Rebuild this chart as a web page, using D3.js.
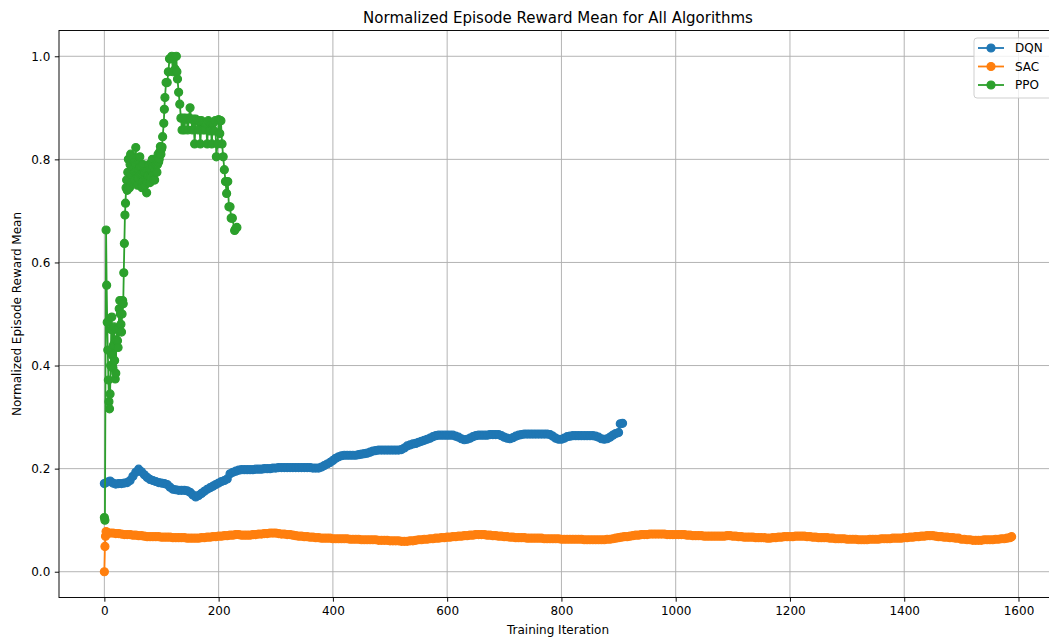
<!DOCTYPE html>
<html>
<head>
<meta charset="utf-8">
<script src="https://cdn.jsdelivr.net/npm/d3@7"></script>
<style>
  body { margin: 0; background: #fff; }
  svg { font-family: "DejaVu Sans", sans-serif; }
</style>
</head>
<body>
<div id="chart"></div>
<script>
// Series.
const seriesNames = ['DQN', 'SAC', 'PPO'];
const seriesColors = ['#1f77b4', '#ff7f0e', '#2ca02c'];

const dqnIter = d3.range(0, 901, 5).concat([903, 907]);
const dqnReward = [
  0.171, 0.174, 0.176, 0.172, 0.170, 0.171, 0.171, 0.172, 0.173, 0.177,
  0.185, 0.193, 0.199, 0.194, 0.188, 0.183, 0.179, 0.177, 0.175, 0.173,
  0.172, 0.171, 0.169, 0.164, 0.160, 0.159, 0.158, 0.158, 0.158, 0.157,
  0.154, 0.149, 0.145, 0.148, 0.152, 0.156, 0.160, 0.163, 0.166, 0.169,
  0.172, 0.175, 0.177, 0.180, 0.190, 0.193, 0.195, 0.197, 0.198, 0.198,
  0.198, 0.198, 0.198, 0.199, 0.199, 0.199, 0.200, 0.200, 0.200, 0.201,
  0.201, 0.202, 0.202, 0.202, 0.202, 0.202, 0.202, 0.202, 0.202, 0.202,
  0.202, 0.202, 0.202, 0.201, 0.201, 0.201, 0.203, 0.206, 0.209, 0.212,
  0.216, 0.220, 0.223, 0.225, 0.226, 0.226, 0.226, 0.226, 0.226, 0.227,
  0.228, 0.229, 0.230, 0.232, 0.234, 0.235, 0.236, 0.236, 0.236, 0.236,
  0.236, 0.236, 0.236, 0.236, 0.237, 0.240, 0.244, 0.246, 0.248, 0.249,
  0.251, 0.253, 0.255, 0.257, 0.259, 0.262, 0.264, 0.265, 0.265, 0.265,
  0.265, 0.265, 0.265, 0.263, 0.261, 0.258, 0.256, 0.257, 0.259, 0.262,
  0.264, 0.265, 0.265, 0.265, 0.265, 0.266, 0.266, 0.266, 0.266, 0.264,
  0.261, 0.259, 0.258, 0.260, 0.263, 0.265, 0.266, 0.267, 0.267, 0.267,
  0.267, 0.267, 0.267, 0.267, 0.267, 0.267, 0.266, 0.263, 0.259, 0.257,
  0.257, 0.259, 0.262, 0.263, 0.264, 0.264, 0.264, 0.264, 0.264, 0.264,
  0.264, 0.264, 0.263, 0.261, 0.258, 0.257, 0.258, 0.261, 0.265, 0.268,
  0.270, 0.287, 0.288
];

const sacIter = [0, 1, 2, 3].concat(d3.range(5, 1586, 5), [1588]);
const sacReward = [
  0.000, 0.049, 0.069, 0.078,
  0.076, 0.075, 0.075, 0.074, 0.074, 0.073, 0.072, 0.072, 0.072, 0.071,
  0.071, 0.070, 0.070, 0.069, 0.068, 0.068, 0.068, 0.068, 0.068, 0.067,
  0.067, 0.067, 0.067, 0.066, 0.066, 0.066, 0.066, 0.066, 0.065, 0.065,
  0.065, 0.065, 0.065, 0.066, 0.066, 0.067, 0.067, 0.068, 0.068, 0.069,
  0.069, 0.070, 0.070, 0.071, 0.071, 0.072, 0.072, 0.071, 0.071, 0.071,
  0.071, 0.072, 0.072, 0.073, 0.073, 0.074, 0.074, 0.075, 0.075, 0.075,
  0.074, 0.073, 0.073, 0.072, 0.072, 0.071, 0.070, 0.069, 0.069, 0.068,
  0.068, 0.067, 0.067, 0.066, 0.066, 0.065, 0.065, 0.065, 0.065, 0.064,
  0.064, 0.064, 0.064, 0.064, 0.064, 0.063, 0.063, 0.063, 0.063, 0.062,
  0.062, 0.062, 0.062, 0.062, 0.062, 0.061, 0.061, 0.061, 0.061, 0.060,
  0.060, 0.060, 0.060, 0.059, 0.059, 0.059, 0.060, 0.060, 0.061, 0.062,
  0.062, 0.063, 0.063, 0.064, 0.064, 0.065, 0.065, 0.066, 0.066, 0.067,
  0.067, 0.068, 0.068, 0.069, 0.069, 0.070, 0.070, 0.071, 0.071, 0.072,
  0.072, 0.072, 0.072, 0.071, 0.071, 0.070, 0.070, 0.069, 0.069, 0.068,
  0.068, 0.067, 0.067, 0.066, 0.066, 0.066, 0.066, 0.065, 0.065, 0.065,
  0.065, 0.065, 0.065, 0.064, 0.064, 0.064, 0.064, 0.064, 0.064, 0.063,
  0.063, 0.063, 0.063, 0.063, 0.063, 0.063, 0.063, 0.062, 0.062, 0.062,
  0.062, 0.062, 0.062, 0.062, 0.062, 0.063, 0.063, 0.064, 0.065, 0.066,
  0.067, 0.068, 0.068, 0.069, 0.070, 0.071, 0.071, 0.072, 0.072, 0.072,
  0.073, 0.073, 0.073, 0.073, 0.073, 0.073, 0.072, 0.072, 0.072, 0.072,
  0.072, 0.072, 0.072, 0.071, 0.071, 0.070, 0.070, 0.070, 0.070, 0.069,
  0.069, 0.069, 0.069, 0.069, 0.069, 0.069, 0.069, 0.070, 0.070, 0.069,
  0.069, 0.068, 0.068, 0.067, 0.067, 0.067, 0.067, 0.066, 0.066, 0.066,
  0.066, 0.065, 0.065, 0.066, 0.066, 0.067, 0.067, 0.068, 0.068, 0.068,
  0.068, 0.069, 0.069, 0.069, 0.069, 0.068, 0.068, 0.067, 0.067, 0.066,
  0.066, 0.066, 0.066, 0.065, 0.065, 0.064, 0.064, 0.064, 0.064, 0.063,
  0.063, 0.063, 0.063, 0.062, 0.062, 0.062, 0.062, 0.063, 0.063, 0.063,
  0.063, 0.064, 0.064, 0.064, 0.064, 0.065, 0.065, 0.065, 0.065, 0.066,
  0.066, 0.067, 0.067, 0.068, 0.068, 0.069, 0.069, 0.070, 0.070, 0.070,
  0.069, 0.068, 0.068, 0.067, 0.067, 0.066, 0.066, 0.065, 0.065, 0.063,
  0.063, 0.062, 0.062, 0.061, 0.061, 0.061, 0.061, 0.062, 0.062, 0.062,
  0.062, 0.063, 0.063, 0.064, 0.064, 0.065, 0.066,
  0.068
];

const ppoIter = [
  0, 1, 3, 4, 5, 6, 7, 8, 9, 10, 11, 12, 13, 14, 15, 16, 17, 18, 19, 20,
  21, 22, 23, 24, 25, 26, 27, 28, 29, 30, 31, 32, 33, 34, 35, 36, 37, 38, 39, 40,
  41, 42, 43, 44, 45, 46, 47, 48, 49, 50, 51, 52, 53, 54, 55, 56, 57, 58, 59, 60,
  61, 62, 63, 64, 65, 66, 67, 68, 69, 70, 71, 72, 73, 74, 75, 76, 77, 78, 79, 80,
  81, 82, 83, 84, 85, 86, 87, 88, 89, 90, 91, 92, 93, 94, 95, 96, 97, 98, 99, 100,
  101, 102, 104, 105, 106, 108, 110, 112, 114, 116, 118, 120, 122, 124, 126, 127, 128, 130, 132, 134,
  136, 138, 140, 142, 144, 146, 148, 150, 152, 154, 156, 158, 160, 162, 164, 166, 168, 170, 172, 174,
  176, 178, 180, 182, 184, 186, 188, 190, 192, 194, 196, 198, 200, 202, 204, 206, 208, 210, 212, 214,
  216, 218, 220, 222, 224, 228, 230, 232
];
const ppoReward = [
  0.105, 0.100, 0.663, 0.556, 0.484, 0.430, 0.372, 0.330, 0.316, 0.345,
  0.400, 0.470, 0.494, 0.420, 0.395, 0.440, 0.475, 0.410, 0.374, 0.385,
  0.450, 0.470, 0.448, 0.435, 0.470, 0.510, 0.526, 0.500, 0.480, 0.465,
  0.500, 0.526, 0.520, 0.580, 0.637, 0.692, 0.715, 0.745, 0.760, 0.740,
  0.775, 0.800, 0.760, 0.745, 0.790, 0.810, 0.770, 0.755, 0.790, 0.800,
  0.780, 0.760, 0.795, 0.775, 0.823, 0.790, 0.770, 0.750, 0.765, 0.780,
  0.795, 0.805, 0.785, 0.770, 0.755, 0.745, 0.770, 0.790, 0.775, 0.760,
  0.750, 0.775, 0.760, 0.735, 0.755, 0.770, 0.780, 0.790, 0.770, 0.755,
  0.765, 0.780, 0.795, 0.800, 0.785, 0.770, 0.760, 0.760, 0.780, 0.790,
  0.800, 0.775, 0.790, 0.810, 0.795, 0.800, 0.815, 0.825, 0.810, 0.820,
  0.824, 0.844, 0.870, 0.897, 0.920, 0.949, 0.949, 0.970, 0.995, 0.995,
  1.000, 0.970, 0.998, 0.975, 1.000, 0.970, 0.956, 0.930, 0.907, 0.880,
  0.857, 0.880, 0.857, 0.880, 0.878, 0.857, 0.880, 0.900, 0.878, 0.857,
  0.878, 0.830, 0.878, 0.875, 0.857, 0.875, 0.830, 0.875, 0.857, 0.872,
  0.857, 0.870, 0.830, 0.875, 0.855, 0.870, 0.830, 0.870, 0.855, 0.875,
  0.805, 0.830, 0.877, 0.850, 0.875, 0.830, 0.805, 0.780, 0.757, 0.734,
  0.757, 0.708, 0.708, 0.686, 0.686, 0.662, 0.666, 0.668
];

const xTicks = [0, 200, 400, 600, 800, 1000, 1200, 1400, 1600];
const yTicks = [0.0, 0.2, 0.4, 0.6, 0.8, 1.0];

const width = 1049;
const height = 641;
const margin = {'left': 59, 'top': 30.5, 'right': 1057, 'bottom': 597.5};
const markerR = 4.0;

let svg = d3.select('#chart')
  .append('svg')
    .attr('width', width)
    .attr('height', height);

let x = d3.scaleLinear().domain([-79.4, 1667.4]).range([margin.left, margin.right]);
let y = d3.scaleLinear().domain([-0.05, 1.05]).range([margin.bottom, margin.top]);

// grid
let grid = svg.append('g').attr('class', 'grid')
  .attr('stroke', '#b0b0b0').attr('stroke-width', 0.95);
grid.selectAll('line.gx').data(xTicks).enter().append('line')
  .attr('x1', (d) => x(d)).attr('x2', (d) => x(d))
  .attr('y1', margin.top).attr('y2', margin.bottom);
grid.selectAll('line.gy').data(yTicks).enter().append('line')
  .attr('y1', (d) => y(d)).attr('y2', (d) => y(d))
  .attr('x1', margin.left).attr('x2', margin.right);

// series, drawn in plot order so PPO ends on top
const series = [
  {'name': seriesNames[0], 'color': seriesColors[0], 'pts': d3.zip(dqnIter, dqnReward)},
  {'name': seriesNames[1], 'color': seriesColors[1], 'pts': d3.zip(sacIter, sacReward)},
  {'name': seriesNames[2], 'color': seriesColors[2], 'pts': d3.zip(ppoIter, ppoReward)}
];

let line = d3.line().x((d) => x(d[0])).y((d) => y(d[1]));

series.forEach((s) => {
  let g = svg.append('g').attr('class', 'series');
  g.append('path')
    .attr('d', line(s.pts))
    .attr('fill', 'none')
    .attr('stroke', s.color)
    .attr('stroke-width', 1.8)
    .attr('stroke-linejoin', 'round');
  g.selectAll('circle').data(s.pts).enter().append('circle')
    .attr('cx', (d) => x(d[0]))
    .attr('cy', (d) => y(d[1]))
    .attr('r', markerR)
    .attr('fill', s.color)
    .attr('stroke', s.color)
    .attr('stroke-width', 1.2);
});

// axes
let xAxis = d3.axisBottom(x).tickValues(xTicks).tickFormat(d3.format('d'))
  .tickSize(4.2).tickPadding(4.5).tickSizeOuter(0);
let yAxis = d3.axisLeft(y).tickValues(yTicks).tickFormat(d3.format('.1f'))
  .tickSize(4.2).tickPadding(4.5).tickSizeOuter(0);

let gx = svg.append('g').attr('transform', 'translate(0,' + margin.bottom + ')').call(xAxis);
let gy = svg.append('g').attr('transform', 'translate(' + margin.left + ',0)').call(yAxis);
[gx, gy].forEach((g) => {
  g.selectAll('text').attr('font-size', 12).attr('fill', '#000').attr('font-family', 'DejaVu Sans');
  g.selectAll('line').attr('stroke', '#000').attr('stroke-width', 0.95);
  g.select('.domain').remove();
});

// spines
svg.append('rect')
  .attr('x', margin.left).attr('y', margin.top)
  .attr('width', margin.right - margin.left)
  .attr('height', margin.bottom - margin.top)
  .attr('fill', 'none').attr('stroke', '#000').attr('stroke-width', 0.95);

// titles
svg.append('text')
  .attr('x', (margin.left + margin.right) / 2).attr('y', 23)
  .attr('text-anchor', 'middle').attr('font-size', 15)
  .text('Normalized Episode Reward Mean for All Algorithms');
svg.append('text')
  .attr('x', (margin.left + margin.right) / 2).attr('y', 634)
  .attr('text-anchor', 'middle').attr('font-size', 12)
  .text('Training Iteration');
svg.append('text')
  .attr('transform', 'translate(21,' + ((margin.top + margin.bottom) / 2) + ') rotate(-90)')
  .attr('text-anchor', 'middle').attr('font-size', 12)
  .text('Normalized Episode Reward Mean');

// legend
let legend = svg.append('g').attr('transform', 'translate(974,38)');
legend.append('rect')
  .attr('width', 80).attr('height', 60).attr('rx', 3)
  .attr('fill', '#fff').attr('fill-opacity', 0.8)
  .attr('stroke', '#cccccc').attr('stroke-width', 0.95);
series.forEach((s, i) => {
  let row = legend.append('g').attr('transform', 'translate(0,' + (10 + i * 18.5) + ')');
  row.append('line').attr('x1', 4).attr('x2', 30)
    .attr('stroke', s.color).attr('stroke-width', 1.8);
  row.append('circle').attr('cx', 17).attr('r', markerR)
    .attr('fill', s.color).attr('stroke', s.color).attr('stroke-width', 1.2);
  row.append('text').attr('x', 41).attr('y', 4.3).attr('font-size', 12)
    .text(s.name);
});
</script>
</body>
</html>
